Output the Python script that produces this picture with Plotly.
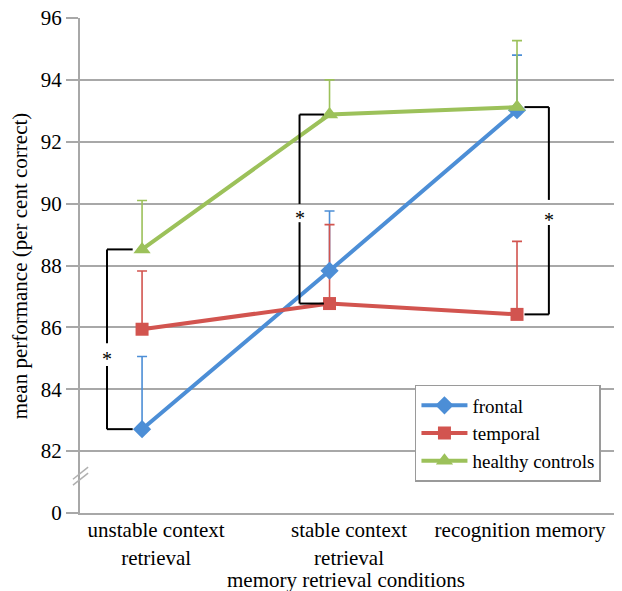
import plotly.graph_objects as go

# ---- data ----
categories = ["unstable context<br>retrieval", "stable context<br>retrieval", "recognition memory"]
frontal = [82.71, 87.83, 93.02]
frontal_err = [2.35, 1.93, 1.78]
temporal = [85.94, 86.77, 86.42]
temporal_err = [1.88, 2.55, 2.36]
healthy = [88.52, 92.88, 93.12]
healthy_err = [1.58, 1.12, 2.15]
y_tickvals = [80, 82, 84, 86, 88, 90, 92, 94, 96]
y_ticktext = ["0", "82", "84", "86", "88", "90", "92", "94", "96"]

x = [0, 1, 2]
label_pos = [0.075, 1.104, 2.016]

BLUE = "#4C8ED6"
RED = "#D2544F"
GREEN = "#9CC15A"
GRID = "#A8A8A8"
FONT = "'Liberation Serif', 'Times New Roman', 'DejaVu Serif', serif"

fig = go.Figure()

series = [
    ("frontal", frontal, frontal_err, BLUE, "diamond", 14),
    ("temporal", temporal, temporal_err, RED, "square", 13),
    ("healthy controls", healthy, healthy_err, GREEN, "triangle-up", 15),
]

# error bars (upper only), drawn beneath the lines
for name, vals, err, col, sym, sz in series:
    fig.add_trace(go.Scatter(
        x=x, y=vals, mode="markers",
        marker=dict(size=1, opacity=0, color=col),
        error_y=dict(type="data", symmetric=False, array=err,
                     arrayminus=[0] * len(err), color=col,
                     thickness=1.6, width=5),
        showlegend=False, hoverinfo="skip"))

for name, vals, err, col, sym, sz in series:
    fig.add_trace(go.Scatter(
        x=x, y=vals, mode="lines+markers", name=name,
        line=dict(color=col, width=4),
        marker=dict(symbol=sym, size=sz, color=col)))

# significance brackets
brackets = [
    # (x_vertical, x_arm_end, top value, bottom value, gap_hi, gap_lo, star_y)
    (-0.187, -0.05, healthy[0], frontal[0], 85.49, 84.75, 85.14),
    (0.84, 0.97, healthy[1], temporal[1], 89.99, 89.40, 89.70),
    (2.17, 2.04, healthy[2], temporal[2], 90.12, 89.31, 89.62),
]
shapes = []
annotations = []
for xv, xe, top, bot, ghi, glo, sy in brackets:
    ln = dict(color="black", width=2)
    shapes.append(dict(type="line", x0=xe, x1=xv, y0=top, y1=top, xref="x", yref="y", line=ln))
    shapes.append(dict(type="line", x0=xv, x1=xv, y0=top, y1=ghi, xref="x", yref="y", line=ln))
    shapes.append(dict(type="line", x0=xv, x1=xv, y0=glo, y1=bot, xref="x", yref="y", line=ln))
    shapes.append(dict(type="line", x0=xv, x1=xe, y0=bot, y1=bot, xref="x", yref="y", line=ln))
    annotations.append(dict(x=xv, y=sy, text="*", showarrow=False, xref="x", yref="y",
                            yshift=-5, font=dict(family=FONT, size=20, color="black")))

# axis titles
annotations.append(dict(x=0.49, y=-0.135, xref="paper", yref="paper", showarrow=False,
                        text="memory retrieval conditions", xanchor="center", yanchor="middle",
                        font=dict(family=FONT, size=21, color="black")))
annotations.append(dict(x=-0.111, y=0.5, xref="paper", yref="paper", showarrow=False,
                        text="mean performance (per cent correct)", textangle=-90,
                        xanchor="center", yanchor="middle",
                        font=dict(family=FONT, size=21, color="black")))

# axis break marks
for dy in (0.0, 0.19):
    shapes.append(dict(type="line", xref="paper", yref="y",
                       x0=-0.013, x1=0.015, y0=80.9 + dy, y1=81.29 + dy,
                       line=dict(color="#B0B0B0", width=1.5)))

# the page adds an 8px body margin, so the figure is sized to fill the rest
fig.update_layout(
    width=614, height=583,
    margin=dict(l=72, r=0, t=10, b=78, autoexpand=False),
    paper_bgcolor="white", plot_bgcolor="white",
    font=dict(family=FONT, size=21, color="black"),
    showlegend=True,
    legend=dict(x=0.618, y=0.2586, xanchor="left", yanchor="top",
                bgcolor="white", bordercolor="#9A9A9A", borderwidth=1.5,
                font=dict(family=FONT, size=19, color="black"),
                tracegroupgap=2, itemwidth=46),
    shapes=shapes, annotations=annotations,
    xaxis=dict(range=[-0.331, 2.56], tickvals=label_pos, ticktext=categories,
               showgrid=False, zeroline=False, showline=True, linecolor=GRID,
               linewidth=2, ticks="", tickfont=dict(family=FONT, size=21),
               automargin=False, ticklabelstandoff=-3),
    yaxis=dict(range=[80, 96], tickvals=y_tickvals, ticktext=y_ticktext,
               showgrid=True, gridcolor=GRID, gridwidth=2, zeroline=False,
               showline=True, linecolor=GRID, linewidth=2,
               ticks="outside", ticklen=12, tickcolor=GRID, tickwidth=2,
               tickfont=dict(family=FONT, size=21), automargin=False,
               ticklabeloverflow="allow"),
)

fig.write_html("out.html")
